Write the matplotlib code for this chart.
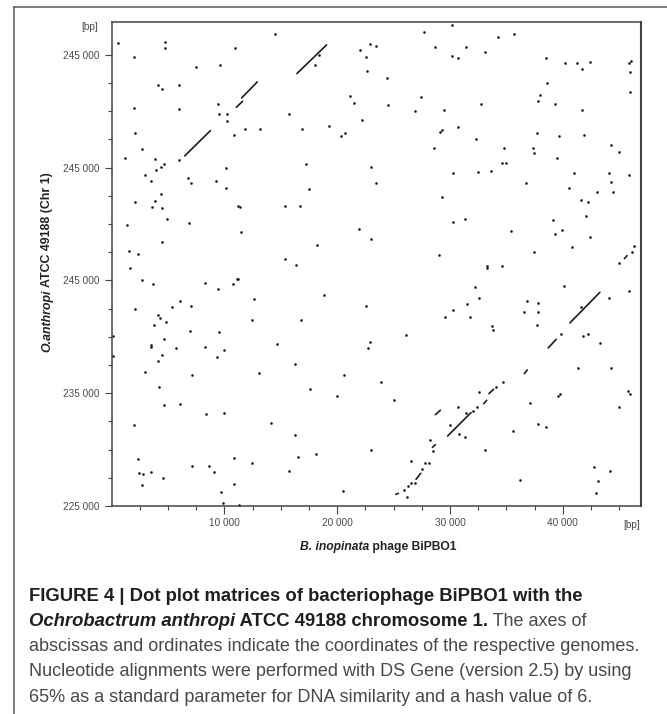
import matplotlib
matplotlib.use("Agg")
import matplotlib.pyplot as plt
from matplotlib.lines import Line2D

plt.rcParams["font.family"] = ["Liberation Sans", "DejaVu Sans"]

W, H = 667, 714

# =========================
# DATA (bp)
# =========================
dot_x = [620, 4750, 4750, 1950, 10970, 14480, 7490, 9590, 18050, 18410, 4160, 4510, 6020, 1950, 5960,
         9410, 9500, 10240, 10240, 15750, 10890, 11800, 13190, 16840, 19290, 2040, 2710, 1210, 3860, 5960,
         4630, 4430, 3980, 17260, 10180, 2950, 3540, 6760, 7050, 9260, 10120, 17490, 4370, 2040, 3860,
         3570, 4480, 11240, 11360, 15400, 16670, 1390, 4900, 6840, 11510, 4510, 18170, 1560, 2330, 15340,
         27670, 30150, 34280, 35660, 22920, 23450, 22060, 22510, 22630, 24420, 28670, 31390, 30150, 30680, 33070,
         38530, 40180, 41240, 42390, 41710, 45870, 46050, 45930, 38580, 45990, 37940, 37820, 39320, 41740, 21180,
         21530, 24540, 27430, 26870, 29470, 32770, 22180, 20350, 20680, 29090, 29260, 30680, 32300, 37700, 39620,
         41830, 44250, 44990, 28550, 34750, 37350, 37400, 39440, 34570, 34930, 41000, 44130, 45870, 30300, 32510,
         33600, 23040, 23450, 36700, 44250, 40500, 43040, 44430, 29320, 41590, 42240, 42070, 39150, 30240, 31330,
         35400, 39260, 39940, 21950, 23040, 42390, 40830, 29060, 37400, 46340, 46170,
         44960, 33250, 33250, 34630, 40090, 45870, 32240, 32540, 44130, 36780, 37820, 31500, 22540, 30240, 36550,
         37820, 41620, 29530, 31800, 37700, 33720, 33840, 26140, 39850, 41770, 42240, 22920, 22710, 43280, 41300,
         44310, 20590, 23860, 34690, 34040, 32600, 45750, 45930, 39590, 39790, 19970, 25010, 37050, 44990, 30740,
         31390, 30000, 37820, 38530, 35580, 30830, 31330, 28200, 22980, 33130, 26580, 27790, 28140, 27520, 42800,
         44220, 36200, 43070, 42980, 20500, 26520, 26280, 26930, 25960, 26170, 32010, 32420, 28500,
         16370, 1680, 2710, 3660, 8260, 9470, 10770, 11090, 11210, 18790, 12630, 6080, 5400, 7050, 2040,
         4160, 4340, 4840, 3810, 12450, 16760, 6930, 9560, 4660, 3480, 3510, 5720, 8290, 9940, 14690,
         4450, 4160, 9380, 16280, 3010, 7170, 13070, 4220, 17550, 4630, 6080, 8410, 9940, 1980, 14130,
         16230, 2360, 10890, 16550, 18140, 7170, 8610, 12450, 2420, 2770, 3480, 9090, 15690, 4570, 2710,
         10830, 9680, 9910, 11270, 90, 120]
dot_y = [266045, 266160, 265630, 264770, 265570, 266810, 263950, 264120, 264070, 264980, 262290, 261970, 262290, 260250, 260190,
         260610, 259720, 259720, 259130, 259720, 257890, 258390, 258390, 258450, 258720, 258100, 256680, 255880, 255760, 255700,
         255320, 255080, 254760, 255350, 254930, 254310, 253780, 254050, 253660, 253840, 253160, 253070, 252690, 251980, 252040,
         251540, 251390, 251600, 251480, 251570, 251630, 249940, 250410, 250060, 249260, 248430, 248110, 247580, 247340, 246900,
         267020, 267670, 266550, 266840, 265930, 265750, 265450, 264770, 263530, 262910, 265690, 265690, 264920, 264750, 265280,
         264720, 264300, 264300, 264360, 263710, 264300, 264480, 263470, 262500, 261670, 261460, 260930, 260640, 260140, 261320,
         260700, 260520, 261230, 259990, 260140, 260640, 259190, 257770, 258040, 258130, 258330, 258570, 257560, 258040, 257770,
         257860, 256970, 256380, 256770, 256770, 256770, 256320, 255820, 255380, 255400, 254520, 254520, 254310, 254490, 254640,
         254700, 255050, 253660, 253600, 253720, 253190, 252810, 252810, 252390, 252160, 251980, 250740, 250350, 250180, 250410,
         249350, 249140, 249470, 249590, 248640, 248820, 247990, 247250, 247490, 248020, 247520,
         246570, 246305, 246128, 246276, 244532, 244059, 244414, 243468, 243468, 243143, 242966, 242907, 242730, 242375, 242227,
         242227, 242671, 241784, 241754, 241045, 240927, 240632, 240129, 240218, 240041, 240218, 239538, 239006, 239479, 237204,
         237263, 236583, 235992, 235992, 235549, 235106, 235165, 234958, 234781, 234958, 234722, 234426, 234131, 233746, 233805,
         233214, 232180, 232298, 231973, 231619, 231412, 231116, 230821, 229934, 229934, 228959, 228782, 228841, 228250, 228486,
         228132, 227275, 227216, 226182, 226300, 227039, 226743, 227039, 226418, 225768, 233392, 233776, 229875,
         246364, 246069, 245064, 244650, 244769, 244207, 244709, 245123, 245123, 243705, 243321, 243202, 242670, 242730, 242493,
         241961, 241695, 241282, 241045, 241518, 241459, 240543, 240395, 239775, 239302, 239095, 239006, 239124, 238859, 239361,
         238356, 237883, 238208, 237617, 236849, 236642, 236760, 235578, 235401, 233953, 234012, 233155, 233214, 232180, 232328,
         231294, 229196, 229255, 229373, 229609, 228546, 228516, 228782, 227895, 227807, 228043, 227984, 228102, 227511, 226891,
         226920, 226241, 225295, 225059, 240070, 238297]

# alignment runs: start/end on the phage genome and on the chromosome
run_x0 = [6490, 11060, 11530, 16430, 45460, 36580, 28700, 32980, 33450, 38700, 40620, 29790, 28440, 26990, 25190]
run_x1 = [8760, 11620, 12920, 19060, 45690, 36840, 29140, 33250, 33860, 39410, 43280, 31860, 28700, 27400, 25430]
run_y0 = [256030, 260340, 261170, 263330, 246930, 236731, 233096, 234071, 234958, 239006, 241223, 231205, 230200, 227364, 226034]
run_y1 = [258270, 260870, 262590, 265870, 247190, 237056, 233480, 234367, 235342, 239775, 243941, 233274, 230437, 227895, 226122]

x_major = [10000, 20000, 30000, 40000]
x_major_labels = ["10 000", "20 000", "30 000", "40 000"]
y_major = [225000, 235000, 245000, 255000, 265000]
y_major_labels = ["225 000", "235 000", "245 000", "245 000", "245 000"]
x_minor = [2500, 5000, 7500, 12500, 15000, 17500, 22500, 25000, 27500, 32500, 35000, 37500, 42500, 45000]
y_minor = [227500, 230000, 232500, 237500, 240000, 242500, 247500, 250000, 252500, 257500, 260000, 262500]

# =========================
# PLOT
# =========================
fig = plt.figure(figsize=(W / 100, H / 100), dpi=100)
ax = fig.add_axes([111.5 / W, 1 - 506 / H, (640.5 - 111.5) / W, (506 - 22) / H])

ax.plot(dot_x, dot_y, linestyle="none", marker="o", markersize=1.9, markeredgewidth=0, color="#1c1c1c")
for x0, x1, y0, y1 in zip(run_x0, run_x1, run_y0, run_y1):
    ax.plot([x0, x1], [y0, y1], color="#1c1c1c", linewidth=1.2, solid_capstyle="round")

ax.set_xlim(0, 46880)
ax.set_ylim(225000, 267900)
ax.set_xticks(x_major)
ax.set_xticklabels(x_major_labels)
ax.set_yticks(y_major)
ax.set_yticklabels(y_major_labels)
ax.set_xticks(x_minor, minor=True)
ax.set_yticks(y_minor, minor=True)
ax.tick_params(which="major", length=5.4, width=0.8, color="#444444", labelsize=7.2, labelcolor="#4a4a4a", pad=3.3)
ax.tick_params(which="minor", length=3, width=0.8, color="#444444")
for side in ax.spines:
    ax.spines[side].set_linewidth(1.1)
    ax.spines[side].set_color("#444444")
ax.spines["right"].set_linewidth(1.5)

# outer frame of the figure panel
fig.add_artist(Line2D([14 / W, 14 / W], [0, 1 - 6.5 / H], color="#5a5a5a", linewidth=1.1))
fig.add_artist(Line2D([14 / W, 1], [1 - 6.5 / H, 1 - 6.5 / H], color="#5a5a5a", linewidth=1.1))

fig.text(98.5 / W, 1 - 27 / H, "[bp]", fontsize=7.2, color="#4a4a4a", ha="right", va="center")
fig.text(640 / W, 1 - 524.5 / H, "[bp]", fontsize=7.2, color="#4a4a4a", ha="right", va="center")


def runs(parts, x, y, rotation=0):
    # write text pieces one after the other, x and y in pixels from top left
    rend = fig.canvas.get_renderer()
    for s, size, weight, style, color in parts:
        t = fig.text(x / W, 1 - y / H, s, fontsize=size, fontweight=weight, fontstyle=style, color=color,
                     ha="left", va="baseline", rotation=rotation, rotation_mode="anchor")
        box = t.get_window_extent(rend)
        if rotation:
            y -= box.height
        else:
            x += box.width


runs([("B. inopinata", 8.7, "bold", "italic", "#222222"), (" phage BiPBO1", 8.7, "bold", "normal", "#222222")], 300, 550)
runs([("O.anthropi", 8.9, "bold", "italic", "#222222"), (" ATCC 49188 (Chr 1)", 8.9, "bold", "normal", "#222222")],
     50, 352, rotation=90)

# =========================
# CAPTION
# =========================
bold = 13.35
reg = 13
dark = "#1f1f1f"
grey = "#484848"
runs([("FIGURE 4 | Dot plot matrices of bacteriophage BiPBO1 with the", bold, "bold", "normal", dark)], 29, 601)
runs([("Ochrobactrum anthropi", bold, "bold", "italic", dark), (" ATCC 49188 chromosome 1.", bold, "bold", "normal", dark),
      (" The axes of", reg, "normal", "normal", grey)], 29, 626)
runs([("abscissas and ordinates indicate the coordinates of the respective genomes.", reg, "normal", "normal", grey)], 29, 651)
runs([("Nucleotide alignments were performed with DS Gene (version 2.5) by using", reg, "normal", "normal", grey)], 29, 676.5)
runs([("65% as a standard parameter for DNA similarity and a hash value of 6.", reg, "normal", "normal", grey)], 29, 702)

fig.savefig("out.png", dpi=100)
